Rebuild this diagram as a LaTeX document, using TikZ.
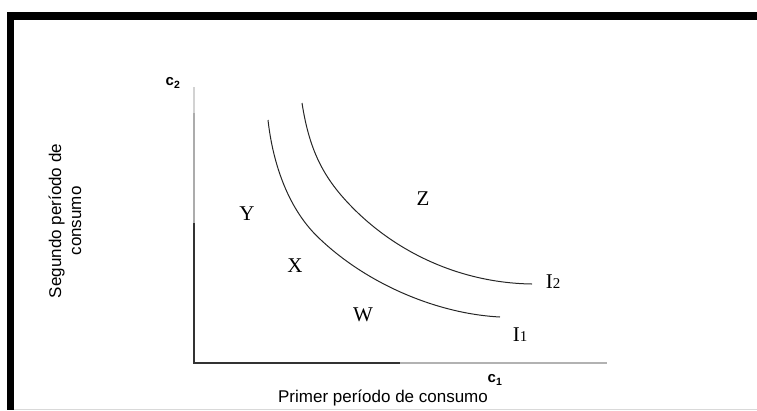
\documentclass[tikz,border=0pt]{standalone}
\usepackage{fontspec}
\setmainfont{Liberation Serif}
\setsansfont{Liberation Sans}
\begin{document}
\begin{tikzpicture}[x=1pt,y=-1pt,
  axlab/.style={font=\sffamily\fontsize{17}{20}\selectfont, inner sep=0pt},
  clab/.style={font=\sffamily\bfseries\fontsize{15}{15}\selectfont, inner sep=0pt},
  reg/.style={font=\fontsize{21}{21}\selectfont, inner sep=0pt},
  curve/.style={line width=1pt, black!85},
  axis/.style={line width=1.3pt}]
\useasboundingbox (0,0) rectangle (757,410);
% frame
\fill[black] (7,12) rectangle (757,20);
\fill[black] (7,12) rectangle (14,410);
\draw[gray!30, line width=1pt] (14,409) -- (757,409);
% axes
\coordinate (ytop) at (194,87);
\coordinate (ya) at (194,113);
\coordinate (yb) at (194,223);
\coordinate (o) at (194,363);
\coordinate (xa) at (400,363);
\coordinate (xend) at (607,363);
\draw[axis, gray!35] (ytop) -- (ya);
\draw[axis, gray!65] (ya) -- (yb);
\draw[axis, black!80] (yb) -- (o) -- (xa);
\draw[axis, gray!60] (xa) -- (xend);
% indifference curves
\coordinate (i1s) at (268,120);
\coordinate (i1m) at (321,240);
\coordinate (i1e) at (500,317);
\coordinate (i2s) at (302,103);
\coordinate (i2m) at (350,205);
\coordinate (i2e) at (532,284);
\draw[curve] (i1s) .. controls (273,165) and (289,211) .. (i1m)
  .. controls (370,286) and (440,314) .. (i1e);
\draw[curve] (i2s) .. controls (309,148) and (322,176) .. (i2m)
  .. controls (395,252) and (460,283) .. (i2e);
% labels
\node[clab] (c2) at (173,83) {c\textsubscript{2}};
\node[clab] (c1) at (495,380) {c\textsubscript{1}};
\node[axlab] (xl) at (383,398) {Primer período de consumo};
\node[axlab, rotate=90, align=center] (yl) at (65,221) {Segundo período de\\consumo};
\node[reg] (Y) at (247,214) {Y};
\node[reg] (X) at (295,266) {X};
\node[reg] (W) at (363,315) {W};
\node[reg] (Z) at (423,199) {Z};
\node[reg] (I1) at (520,335) {I{\fontsize{15}{15}\selectfont 1}};
\node[reg] (I2) at (553,282) {I{\fontsize{15}{15}\selectfont 2}};
\end{tikzpicture}
\end{document}
